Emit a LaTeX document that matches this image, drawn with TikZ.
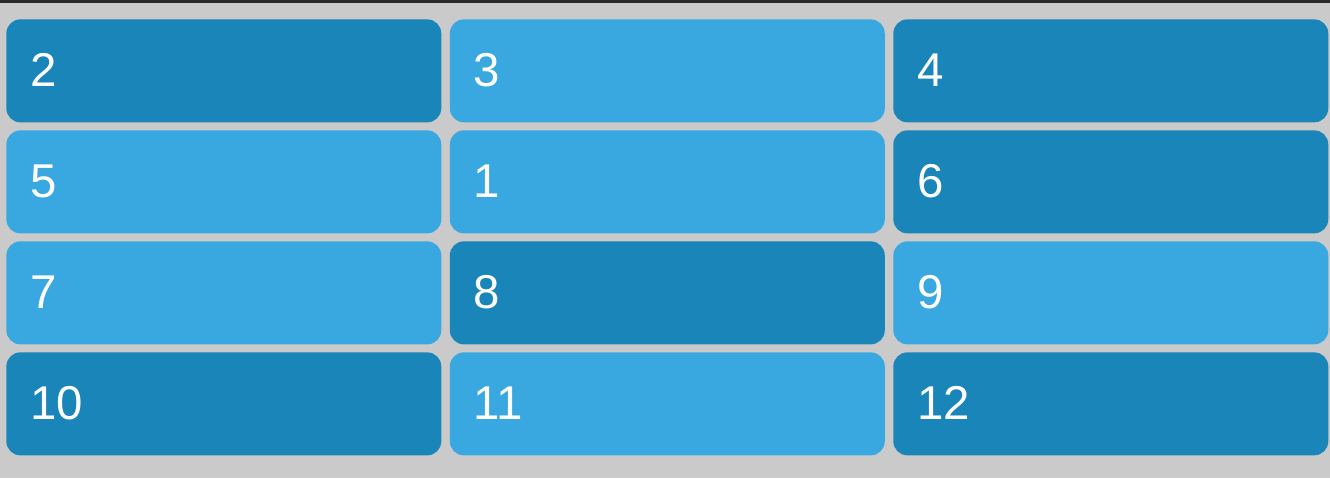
\documentclass[tikz,border=0pt]{standalone}
\usepackage{fontspec}
\setmainfont{Liberation Sans}
\usetikzlibrary{positioning, calc}
\definecolor{cBack}{RGB}{202,202,202}
\definecolor{cBar}{RGB}{40,40,40}
\definecolor{cDark}{RGB}{26,133,184}
\definecolor{cLight}{RGB}{58,168,224}
\tikzset{
	tile/.style={rectangle, rounded corners=0.28cm, minimum width=8.7cm, minimum height=2.06cm, inner sep=0pt, draw=none, anchor=north west},
	num/.style={anchor=base west, text=white, inner sep=0pt, font=\fontsize{27}{32}\selectfont},
}
\begin{document}
\begin{tikzpicture}[x=0.02cm, y=-0.02cm]
	% page and top bar
	\fill[cBack] (0,0) rectangle (1330,478);
	\fill[cBar] (0,0) rectangle (1330,3);
	\useasboundingbox (0,0) rectangle (1330,478);
	% grid of tiles, row by row
	\foreach \lbl/\col [count=\i from 0] in {2/cDark, 3/cLight, 4/cDark, 5/cLight, 1/cLight, 6/cDark, 7/cLight, 8/cDark, 9/cLight, 10/cDark, 11/cLight, 12/cDark} {
		\pgfmathtruncatemacro{\r}{\i/3}
		\pgfmathtruncatemacro{\c}{\i-3*\r}
		\node[tile, fill=\col] (t\lbl) at (6+443.5*\c, 19+111*\r) {};
		\node[num] (n\lbl) at ($(t\lbl.north west)+(24,67)$) {\lbl};
	}
\end{tikzpicture}
\end{document}
